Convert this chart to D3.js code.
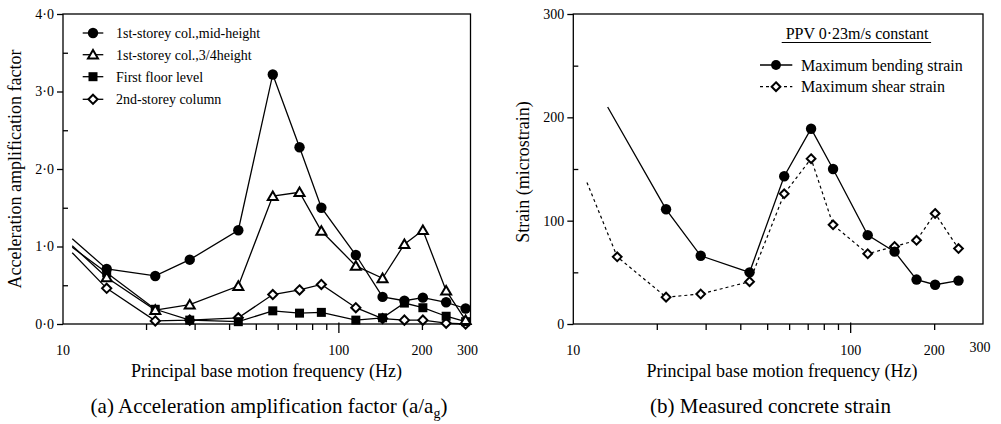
<!DOCTYPE html>
<html><head><meta charset="utf-8">
<script src="https://cdn.jsdelivr.net/npm/d3@7"></script>
<style>
body{margin:0;background:#fff}
svg{display:block}
text{font-family:"Liberation Serif","Times New Roman",serif;fill:#000}
</style>
</head><body>
<svg id="c" width="1001" height="424"></svg>
<script>
// ---------- Data: (a) acceleration amplification factor ----------
// first entry of each series is a line start without a marker
const freqA = [10.8, 14.4, 21.6, 28.8, 43.2, 57.6, 72, 86.4, 115.2, 144, 172.8, 201.6, 244.8, 288];
const midHeight    = [1.10, 0.71, 0.62, 0.83, 1.21, 3.22, 2.28, 1.50, 0.89, 0.35, 0.30, 0.34, 0.28, 0.20];
const threeQuarter = [1.01, 0.60, 0.18, 0.25, 0.49, 1.65, 1.70, 1.20, 0.75, 0.59, 1.03, 1.21, 0.43, 0.05];
const firstFloor   = [0.99, 0.66, 0.19, 0.05, 0.03, 0.17, 0.14, 0.15, 0.05, 0.08, 0.27, 0.21, 0.10, 0.03];
const secondStorey = [0.92, 0.46, 0.04, 0.05, 0.08, 0.38, 0.44, 0.51, 0.21, 0.07, 0.05, 0.05, 0.01, 0.00];
const seriesNamesA = ["1st-storey col.,mid-height", "1st-storey col.,3/4height", "First floor level", "2nd-storey column"];
const yTicksA = [0, 1, 2, 3, 4];
const yMinorA = [0.5, 1.5, 2.5, 3.5];

// ---------- Data: (b) measured concrete strain ----------
const freqBend = [13.3, 21.6, 28.8, 43.2, 57.6, 72, 86.4, 115.2, 144, 172.8, 201.6, 244.8];
const bending  = [210, 111, 66, 50, 143, 189, 150, 86, 70, 43, 38, 42];
const freqShear = [11.2, 14.4, 21.6, 28.8, 43.2, 57.6, 72, 86.4, 115.2, 144, 172.8, 201.6, 244.8];
const shear     = [137, 65, 26, 29, 41, 126, 160, 96, 68, 75, 81, 107, 73];
const seriesNamesB = ["Maximum bending strain", "Maximum shear strain"];
const yTicksB = [0, 100, 200, 300];
const yMinorB = [50, 150, 250];

// shared x ticks
const xLabels = [10, 100, 200, 300];
const xMinor = [20, 30, 40, 50, 60, 70, 80, 90, 200];

const svg = d3.select("#c");
const SW = 1.3;

function markerPath(type, x, y) {
  if (type === "circle") return d3.symbol(d3.symbolCircle, 88)();
  return null;
}
function drawMarker(g, type, x, y, size) {
  const s = size || 1;
  if (type === "circle") {
    g.append("circle").attr("cx", x).attr("cy", y).attr("r", 5.2 * s).attr("fill", "#000");
  } else if (type === "triangle") {
    const h = 8.6, w = 10;
    g.append("path").attr("d", `M${x},${y - h * 0.55}L${x + w / 2},${y + h * 0.45}L${x - w / 2},${y + h * 0.45}Z`)
      .attr("fill", "#fff").attr("stroke", "#000").attr("stroke-width", 2).attr("stroke-linejoin", "miter");
  } else if (type === "square") {
    g.append("rect").attr("x", x - 4.5).attr("y", y - 4.5).attr("width", 9).attr("height", 9).attr("fill", "#000");
  } else if (type === "diamond") {
    const r = 4.6 * s;
    g.append("path").attr("d", `M${x},${y - r}L${x + r},${y}L${x},${y + r}L${x - r},${y}Z`)
      .attr("fill", "#fff").attr("stroke", "#000").attr("stroke-width", 2);
  }
}

function axes(x, y, yTicks, yMinor, fmt, labelX, opt) {
  const [x0, x1] = x.range();
  const [y0, y1] = y.range();
  const g = svg.append("g");
  // box
  g.append("rect").attr("x", x0).attr("y", y1).attr("width", x1 - x0).attr("height", y0 - y1)
    .attr("fill", "none").attr("stroke", "#000").attr("stroke-width", SW);
  // x minor ticks (outward)
  const xa = d3.axisBottom(x).tickValues(xMinor).tickSizeInner(6).tickSizeOuter(0).tickFormat("");
  const gx = g.append("g").attr("transform", `translate(0,${y0})`).call(xa);
  gx.select(".domain").remove();
  gx.selectAll("line").attr("stroke-width", SW);
  // 100 tick longer
  g.append("line").attr("x1", x(100)).attr("x2", x(100)).attr("y1", y0 - 1.5).attr("y2", y0 + 9)
    .attr("stroke", "#000").attr("stroke-width", SW);
  // x labels
  g.selectAll(".xl").data(xLabels).enter().append("text")
    .attr("x", d => x(d) + (d === 300 ? -3 : 0)).attr("y", d => (d === 300 && opt.raise300) ? 352 : 355)
    .attr("text-anchor", "middle").attr("font-size", 14).text(d => d);
  // y major ticks outward
  const ya = d3.axisLeft(y).tickValues(yTicks).tickSizeInner(6).tickSizeOuter(0).tickPadding(labelX).tickFormat(fmt);
  const gy = g.append("g").attr("transform", `translate(${x0},0)`).call(ya);
  gy.select(".domain").remove();
  gy.selectAll("line").attr("stroke-width", SW);
  gy.selectAll("text").attr("font-size", 14).attr("font-family", '"Liberation Serif",serif');
  // y minor ticks inward
  const ym = d3.axisRight(y).tickValues(yMinor).tickSizeInner(5).tickSizeOuter(0).tickFormat("");
  const gm = g.append("g").attr("transform", `translate(${x0},0)`).call(ym);
  gm.select(".domain").remove();
  gm.selectAll("line").attr("stroke-width", SW);
  return g;
}

// ================= Panel (a) =================
const xA = d3.scaleLog().domain([10, 300]).range([63, 470.5]);
const yA = d3.scaleLinear().domain([0, 4]).range([324, 14]);
axes(xA, yA, yTicksA, yMinorA, d => d.toFixed(1).replace(".", "·"), 3, {});

const seriesA = [
  {vals: midHeight, m: "circle"},
  {vals: threeQuarter, m: "triangle"},
  {vals: firstFloor, m: "square"},
  {vals: secondStorey, m: "diamond"}
];
const lineA = d3.line().x(d => xA(d[0])).y(d => yA(d[1]));
const gA = svg.append("g");
seriesA.forEach(s => {
  const pts = freqA.map((f, i) => [f, s.vals[i]]);
  gA.append("path").attr("d", lineA(pts)).attr("fill", "none").attr("stroke", "#000").attr("stroke-width", SW);
});
// markers drawn after all lines; order so circles/triangles on top of squares/diamonds
[3, 2, 1, 0].forEach(k => {
  const s = seriesA[k];
  freqA.forEach((f, i) => { if (i > 0) drawMarker(gA, s.m, xA(f), yA(s.vals[i])); });
});

// legend (a)
const legA = svg.append("g");
const legRowsA = [33, 54.7, 76.7, 99.3];
seriesA.forEach((s, i) => {
  const yy = legRowsA[i];
  legA.append("line").attr("x1", 82.7).attr("x2", 103.3).attr("y1", yy).attr("y2", yy)
    .attr("stroke", "#000").attr("stroke-width", SW);
  drawMarker(legA, s.m, 93, yy);
  legA.append("text").attr("x", 116).attr("y", yy + 5).attr("font-size", 14).text(seriesNamesA[i]);
});

// titles (a)
svg.append("text").attr("transform", "translate(21,169) rotate(-90)").attr("text-anchor", "middle")
  .attr("font-size", 18).text("Acceleration amplification factor");
svg.append("text").attr("x", 266.5).attr("y", 377).attr("text-anchor", "middle").attr("font-size", 18)
  .text("Principal base motion frequency (Hz)");
const capA = svg.append("text").attr("x", 269).attr("y", 413).attr("text-anchor", "middle").attr("font-size", 21);
capA.append("tspan").text("(a) Acceleration amplification factor (a/a");
capA.append("tspan").attr("font-size", 14).attr("dy", 5).text("g");
capA.append("tspan").attr("dy", -5).text(")");

// ================= Panel (b) =================
const xB = d3.scaleLog().domain([10, 300]).range([573.3, 983]);
const yB = d3.scaleLinear().domain([0, 300]).range([324, 14]);
axes(xB, yB, yTicksB, yMinorB, d => d, 3, {raise300: true});

const gB = svg.append("g");
const lineB = d3.line().x(d => xB(d[0])).y(d => yB(d[1]));
gB.append("path").attr("d", lineB(freqShear.map((f, i) => [f, shear[i]])))
  .attr("fill", "none").attr("stroke", "#000").attr("stroke-width", 1.2).attr("stroke-dasharray", "3,3");
gB.append("path").attr("d", lineB(freqBend.map((f, i) => [f, bending[i]])))
  .attr("fill", "none").attr("stroke", "#000").attr("stroke-width", SW);
freqShear.forEach((f, i) => { if (i > 0) drawMarker(gB, "diamond", xB(f), yB(shear[i]), 0.95); });
freqBend.forEach((f, i) => { if (i > 0) drawMarker(gB, "circle", xB(f), yB(bending[i])); });

// legend (b)
const legB = svg.append("g");
const ppv = legB.append("text").attr("x", 785.7).attr("y", 39).attr("font-size", 16).text("PPV 0·23m/s constant");
const pb = ppv.node().getBBox();
legB.append("line").attr("x1", pb.x - 4).attr("x2", pb.x + pb.width + 2).attr("y1", 42.5).attr("y2", 42.5)
  .attr("stroke", "#000").attr("stroke-width", 1.2);
const legRowsB = [65, 86.7];
legRowsB.forEach((yy, i) => {
  legB.append("line").attr("x1", 760).attr("x2", 792.3).attr("y1", yy).attr("y2", yy)
    .attr("stroke", "#000").attr("stroke-width", i === 0 ? SW : 1.2).attr("stroke-dasharray", i === 0 ? null : "3,3");
  drawMarker(legB, i === 0 ? "circle" : "diamond", 776, yy, 0.95);
  legB.append("text").attr("x", 801).attr("y", yy + 5.5).attr("font-size", 16).text(seriesNamesB[i]);
});

// titles (b)
svg.append("text").attr("transform", "translate(529,172) rotate(-90)").attr("text-anchor", "middle")
  .attr("font-size", 18).text("Strain (microstrain)");
svg.append("text").attr("x", 782).attr("y", 377).attr("text-anchor", "middle").attr("font-size", 18)
  .text("Principal base motion frequency (Hz)");
svg.append("text").attr("x", 770.5).attr("y", 413).attr("text-anchor", "middle").attr("font-size", 21)
  .text("(b) Measured concrete strain");
</script>
</body></html>
